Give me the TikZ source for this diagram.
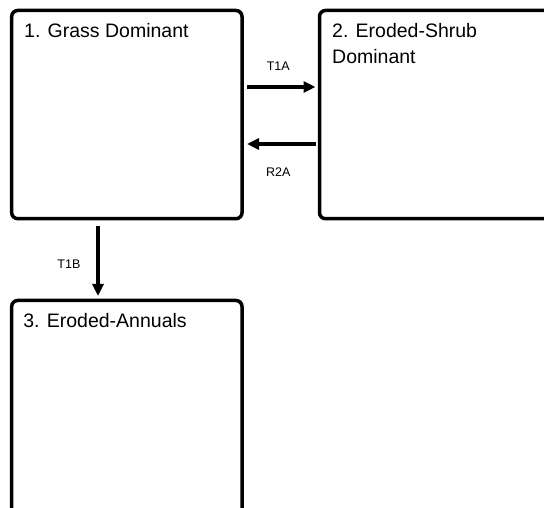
\documentclass[tikz,border=0pt]{standalone}
\usepackage{fontspec}
\setmainfont{Liberation Sans}
\usetikzlibrary{arrows.meta, positioning}
\tikzset{
    statebox/.style={
        rectangle, rounded corners=6pt, draw=black, fill=white,
        line width=3.5pt, inner sep=0pt, outer sep=0pt
    },
    statetitle/.style={anchor=north west, inner sep=0pt, align=left, font=\fontsize{19.5}{26}\selectfont},
    translabel/.style={inner sep=0pt, font=\fontsize{12.5}{15}\selectfont},
    arrow/.style={-{Triangle[length=12pt, width=11pt]}, line width=3.2pt},
}

\begin{document}
\begin{tikzpicture}[x=1pt, y=1pt]
                % Frame
                \useasboundingbox (0, 0) rectangle (544, 508);
                \clip (0, 0) rectangle (544, 508);

                % States
                \node[statebox, minimum width=230.3pt, minimum height=208.2pt] (grass) at (126.85, 393.4) {};
                \node[statebox, minimum width=261pt, minimum height=208.2pt] (shrub) at (450, 393.4) {};
                \node[statebox, minimum width=230.3pt, minimum height=247.5pt] (annuals) at (126.85, 83.75) {};

                \node[statetitle] (grasstitle) at ([shift={(12.3, -13)}]grass.north west) {1. Grass Dominant};
                \node[statetitle] (shrubtitle) at ([shift={(12.5, -13)}]shrub.north west) {2. Eroded-Shrub\\Dominant};
                \node[statetitle] (annualstitle) at ([shift={(11.5, -13)}]annuals.north west) {3. Eroded-Annuals};

                % Transitions
                \draw[arrow] ([shift={(5, 27.6)}]grass.east) -- node[translabel, above=15pt, xshift=-3pt] (t1a) {T1A} ([shift={(-4, 27.6)}]shrub.west);
                \draw[arrow] ([shift={(-4, -29.4)}]shrub.west) -- node[translabel, below=22pt, xshift=-3pt] (r2a) {R2A} ([shift={(5, -29.4)}]grass.east);
                \draw[arrow] ([shift={(-28.85, -7.3)}]grass.south) -- node[translabel, left=16pt, pos=0.55] (t1b) {T1B} ([shift={(-28.85, 4.5)}]annuals.north);
            \end{tikzpicture}
\end{document}
